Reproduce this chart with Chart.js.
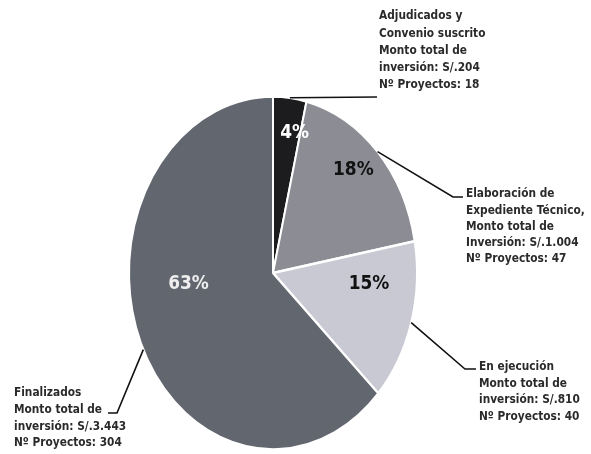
<!DOCTYPE html>
<html>
<head>
<meta charset="utf-8">
<script src="https://cdn.jsdelivr.net/npm/chart.js@4.4.1/dist/chart.umd.min.js"></script>
<style>
  html, body { margin: 0; padding: 0; background: #fff; }
  #wrap { position: relative; width: 591px; height: 454px; }
</style>
</head>
<body>
<div id="wrap"><canvas id="pie" width="591" height="454"></canvas></div>
<script>
// --------------------
// Data
// --------------------
const estados = ['Adjudicados y Convenio suscrito', 'Elaboración de Expediente Técnico', 'En ejecución', 'Finalizados'];
const montos = [204, 1004, 810, 3443];
const proyectos = [18, 47, 40, 304];
const porcentajes = ['4%', '18%', '15%', '63%'];
const rotulos = [
  ['Adjudicados y', 'Convenio suscrito', 'Monto total de', 'inversión: S/.204', 'Nº Proyectos: 18'],
  ['Elaboración de', 'Expediente Técnico,', 'Monto total de', 'Inversión: S/.1.004', 'Nº Proyectos: 47'],
  ['En ejecución', 'Monto total de', 'inversión: S/.810', 'Nº Proyectos: 40'],
  ['Finalizados', 'Monto total de', 'inversión: S/.3.443', 'Nº Proyectos: 304']
];
const colores = ['#1c1c1e', '#8b8c94', '#c9c9d3', '#62666f'];
const coloresTexto = ['#ffffff', '#111111', '#111111', '#eeeeee'];

// vertical stretch of the pie (drawn as an ellipse)
const STRETCH = 1.225;

// label layout: percentage (angle offset deg, radius fraction), text block, leader elbow/end
const layout = [
  { pct: [4, 0.81], text: [379, 16], gap: 17.3, elbow: [377, 97], end: [377, 97], edge: 0.5 },
  { pct: [-3, 0.81], text: [466, 194], gap: 16.3, elbow: [453, 197], end: [463, 197], edge: 0.5 },
  { pct: [-11, 0.67], text: [479, 367], gap: 16.5, elbow: [465, 369], end: [476, 369], edge: 0.5 },
  { pct: [17.5, 0.59], text: [14, 393], gap: 16.7, elbow: [117, 413], end: [108, 413], edge: 0.49 }
];

function ellipsePoint(arc, angle, frac) {
  const r = arc.outerRadius * frac;
  return {
    x: arc.x + Math.cos(angle) * r,
    y: arc.y + Math.sin(angle) * r * STRETCH
  };
}

// squash the arcs into an ellipse around the pie centre
const ellipsePlugin = {
  id: 'ellipse',
  beforeDatasetsDraw(chart) {
    const arc = chart.getDatasetMeta(0).data[0];
    const ctx = chart.ctx;
    ctx.save();
    ctx.translate(arc.x, arc.y);
    ctx.scale(1, STRETCH);
    ctx.translate(-arc.x, -arc.y);
  },
  afterDatasetsDraw(chart) {
    chart.ctx.restore();
  }
};

// percentages, leader lines and callout text
const labelsPlugin = {
  id: 'callouts',
  afterDraw(chart) {
    const ctx = chart.ctx;
    const arcs = chart.getDatasetMeta(0).data;
    arcs.forEach((arc, i) => {
      const L = layout[i];
      const mid = (arc.startAngle + arc.endAngle) / 2;

      // percentage inside the slice
      const p = ellipsePoint(arc, mid + L.pct[0] * Math.PI / 180, L.pct[1]);
      ctx.save();
      ctx.translate(p.x, p.y);
      ctx.scale(1, 1.15);
      ctx.font = 'bold 17px "DejaVu Sans"';
      ctx.fillStyle = coloresTexto[i];
      ctx.textAlign = 'center';
      ctx.textBaseline = 'middle';
      ctx.fillText(porcentajes[i], 0, 0);
      ctx.restore();

      // leader line from the slice edge
      const a = arc.startAngle + (arc.endAngle - arc.startAngle) * L.edge;
      const e = ellipsePoint(arc, a, 1);
      ctx.save();
      ctx.strokeStyle = '#111';
      ctx.lineWidth = 1.6;
      ctx.beginPath();
      ctx.moveTo(e.x, e.y);
      ctx.lineTo(L.elbow[0], L.elbow[1]);
      ctx.lineTo(L.end[0], L.end[1]);
      ctx.stroke();
      ctx.restore();

      // callout text
      ctx.save();
      ctx.font = 'bold 10.6px "DejaVu Sans"';
      ctx.fillStyle = '#2a2a2a';
      ctx.textAlign = 'left';
      ctx.textBaseline = 'middle';
      rotulos[i].forEach((line, k) => {
        ctx.save();
        ctx.translate(L.text[0], L.text[1] + k * L.gap);
        ctx.scale(1, 1.18);
        ctx.fillText(line, 0, 0);
        ctx.restore();
      });
      ctx.restore();
    });
  }
};

new Chart(document.getElementById('pie'), {
  type: 'pie',
  data: {
    labels: estados,
    datasets: [{
      data: montos,
      backgroundColor: colores,
      borderColor: '#ffffff',
      borderWidth: 2
    }]
  },
  options: {
    responsive: false,
    animation: false,
    layout: { padding: { left: 128, right: 173, top: 128, bottom: 36 } },
    plugins: {
      legend: { display: false },
      tooltip: { enabled: false }
    }
  },
  plugins: [ellipsePlugin, labelsPlugin]
});
</script>
</body>
</html>
